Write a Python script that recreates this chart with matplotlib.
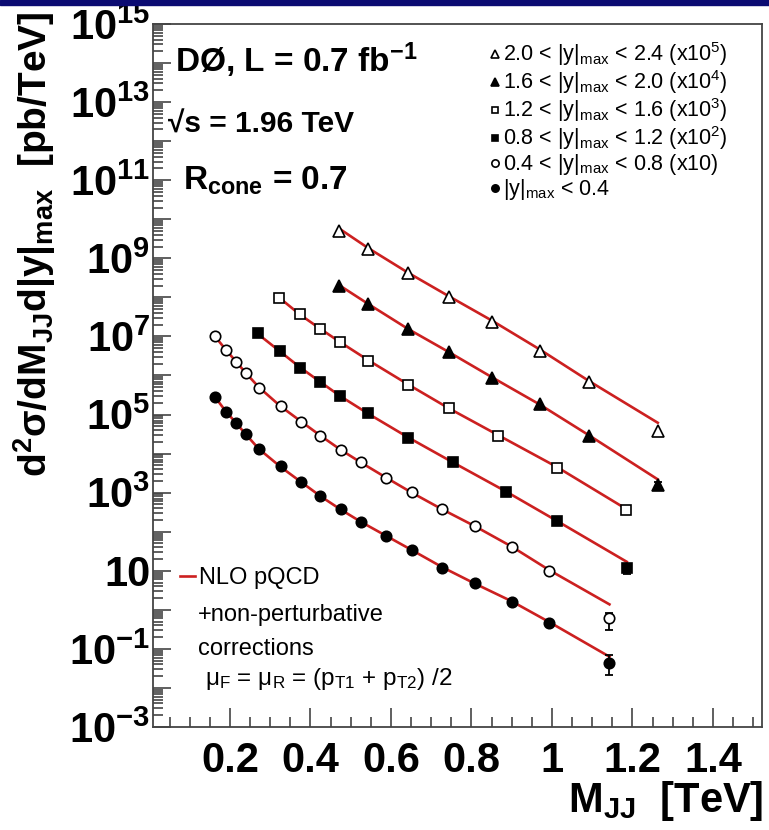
import numpy as np
import matplotlib
matplotlib.use("Agg")
import matplotlib.pyplot as plt
from matplotlib.ticker import LogLocator, MultipleLocator, NullFormatter
from matplotlib.patches import Rectangle

plt.rcParams['font.family'] = ['Liberation Sans', 'DejaVu Sans']
plt.rcParams['mathtext.fontset'] = 'custom'
plt.rcParams['mathtext.rm'] = 'Liberation Sans'
plt.rcParams['mathtext.it'] = 'Liberation Sans:italic'
plt.rcParams['mathtext.bf'] = 'Liberation Sans:bold'
plt.rcParams['mathtext.sf'] = 'Liberation Sans'

narrow = ['Liberation Sans Narrow', 'Liberation Sans']

# dijet mass bin centres [TeV], log10 of measured / NLO cross section (scaled),
# log10 errors (down, up) ; one block per |y|max region
m_r1 = [0.163, 0.190, 0.215, 0.239, 0.272, 0.326, 0.376, 0.425, 0.475, 0.526,
        0.589, 0.652, 0.728, 0.809, 0.900, 0.993, 1.143]
data_r1 = [5.46, 5.07, 4.78, 4.50, 4.12, 3.67, 3.27, 2.92, 2.58, 2.26,
           1.90, 1.53, 1.08, 0.68, 0.21, -0.33, -1.35]
nlo_r1 = [5.45, 5.08, 4.79, 4.50, 4.12, 3.66, 3.28, 2.91, 2.57, 2.25,
          1.89, 1.53, 1.09, 0.67, 0.22, -0.31, -1.20]
edn_r1 = [0] * 16 + [0.32]
eup_r1 = [0] * 16 + [0.20]

m_r2 = [0.163, 0.190, 0.215, 0.239, 0.272, 0.326, 0.376, 0.425, 0.475, 0.526,
        0.589, 0.652, 0.728, 0.809, 0.900, 0.993, 1.143]
data_r2 = [7.02, 6.65, 6.35, 6.06, 5.69, 5.22, 4.82, 4.46, 4.09, 3.79,
           3.38, 3.01, 2.58, 2.15, 1.62, 1.00, -0.20]
nlo_r2 = [7.00, 6.66, 6.36, 6.07, 5.70, 5.21, 4.83, 4.46, 4.10, 3.77,
          3.38, 3.00, 2.57, 2.14, 1.62, 1.02, 0.14]
edn_r2 = [0] * 16 + [0.31]
eup_r2 = [0] * 16 + [0.13]

m_r3 = [0.270, 0.324, 0.374, 0.424, 0.473, 0.544, 0.642, 0.755, 0.886, 1.012, 1.186]
data_r3 = [7.08, 6.63, 6.20, 5.83, 5.48, 5.03, 4.41, 3.78, 3.01, 2.28, 1.08]
nlo_r3 = [7.06, 6.62, 6.21, 5.84, 5.48, 5.02, 4.42, 3.77, 3.03, 2.28, 1.23]
edn_r3 = [0] * 10 + [0.15]
eup_r3 = [0] * 10 + [0.05]

m_r4 = [0.323, 0.374, 0.424, 0.473, 0.544, 0.643, 0.744, 0.867, 1.012, 1.185]
data_r4 = [7.99, 7.58, 7.19, 6.85, 6.38, 5.76, 5.18, 4.46, 3.64, 2.56]
nlo_r4 = [7.99, 7.56, 7.20, 6.86, 6.39, 5.77, 5.16, 4.47, 3.66, 2.58]
edn_r4 = [0] * 10
eup_r4 = [0] * 10

m_r5 = [0.472, 0.544, 0.643, 0.744, 0.852, 0.971, 1.092, 1.263]
data_r5 = [8.29, 7.82, 7.18, 6.61, 5.94, 5.26, 4.46, 3.20]
nlo_r5 = [8.31, 7.83, 7.19, 6.60, 5.95, 5.25, 4.47, 3.34]
edn_r5 = [0] * 7 + [0.13]
eup_r5 = [0] * 7 + [0.08]

m_r6 = [0.472, 0.544, 0.643, 0.744, 0.852, 0.971, 1.092, 1.263]
data_r6 = [9.70, 9.24, 8.62, 8.02, 7.38, 6.64, 5.84, 4.59]
nlo_r6 = [9.76, 9.26, 8.63, 8.03, 7.40, 6.66, 5.86, 4.79]
edn_r6 = [0] * 8
eup_r6 = [0] * 8

labels = [r'|y|$_{\rm max}$ < 0.4',
          r'0.4 < |y|$_{\rm max}$ < 0.8 (x10)',
          r'0.8 < |y|$_{\rm max}$ < 1.2 (x10$^{2}$)',
          r'1.2 < |y|$_{\rm max}$ < 1.6 (x10$^{3}$)',
          r'1.6 < |y|$_{\rm max}$ < 2.0 (x10$^{4}$)',
          r'2.0 < |y|$_{\rm max}$ < 2.4 (x10$^{5}$)']
markers = ['o', 'o', 's', 's', '^', '^']
filled = [True, False, True, False, True, False]

series = [(m_r1, data_r1, nlo_r1, edn_r1, eup_r1),
          (m_r2, data_r2, nlo_r2, edn_r2, eup_r2),
          (m_r3, data_r3, nlo_r3, edn_r3, eup_r3),
          (m_r4, data_r4, nlo_r4, edn_r4, eup_r4),
          (m_r5, data_r5, nlo_r5, edn_r5, eup_r5),
          (m_r6, data_r6, nlo_r6, edn_r6, eup_r6)]

x_ticks = [0.2, 0.4, 0.6, 0.8, 1.0, 1.2, 1.4]
x_ticklabels = ['0.2', '0.4', '0.6', '0.8', '1', '1.2', '1.4']
y_exp = list(range(-3, 16))

red = '#cc2020'
axcol = '#444444'

fig = plt.figure(figsize=(7.69, 8.30), dpi=100)
fig.patches.append(Rectangle((0, 1 - 5 / 830), 1, 5 / 830, transform=fig.transFigure,
                             color='#0b0b72', zorder=0))
ax = fig.add_axes([153 / 769, 103 / 830, 609 / 769, 703 / 830])

handles = []
for (m, d, t, edn, eup), mk, fl, lab in zip(series, markers, filled, labels):
    m = np.array(m)
    d = np.array(d)
    t = np.array(t)
    edn = np.array(edn, dtype=float)
    eup = np.array(eup, dtype=float)
    y = 10.0 ** d
    nlo_line, = ax.plot(m, 10.0 ** t, color=red, lw=1.9, zorder=2)
    sel = (edn > 0) | (eup > 0)
    if sel.any():
        lo = y[sel] - 10.0 ** (d[sel] - edn[sel])
        hi = 10.0 ** (d[sel] + eup[sel]) - y[sel]
        ax.errorbar(m[sel], y[sel], yerr=[lo, hi], fmt='none', ecolor='black',
                    elinewidth=1.3, capsize=3, capthick=1.3, zorder=3)
    ms = {'o': 7.5, 's': 7.0, '^': 8.0}[mk]
    h, = ax.plot(m, y, linestyle='none', marker=mk, ms=ms,
                 mfc='black' if fl else 'white', mec='black', mew=1.2,
                 zorder=4, label=lab)
    handles.append(h)

ax.set_yscale('log')
ax.set_xlim(0.009, 1.522)
ax.set_ylim(1e-3, 1e15)

ylabels = []
for e in y_exp:
    if e % 2 == 0:
        ylabels.append('')
    elif e == 1:
        ylabels.append('10')
    else:
        ylabels.append(r'10$^{\mathbf{%d}}$' % e)
ax.set_yticks([10.0 ** e for e in y_exp], labels=ylabels, fontsize=30,
              fontweight='bold', family=narrow)
ax.yaxis.set_minor_locator(LogLocator(base=10, subs=np.arange(2, 10), numticks=400))
ax.yaxis.set_minor_formatter(NullFormatter())
ax.set_xticks(x_ticks, labels=x_ticklabels, fontsize=30, fontweight='bold')
ax.xaxis.set_minor_locator(MultipleLocator(0.05))

ax.tick_params(which='both', direction='in', color=axcol, width=1.2,
               top=False, right=False)
ax.tick_params(axis='y', which='major', length=13, pad=2)
ax.tick_params(axis='y', which='minor', length=7)
ax.tick_params(axis='x', which='major', length=14, pad=10)
ax.tick_params(axis='x', which='minor', length=7)
for sp in ax.spines.values():
    sp.set_color(axcol)
    sp.set_linewidth(1.3)

# legends
leg = ax.legend(handles[::-1], labels[::-1], loc='upper left',
                bbox_to_anchor=(0.554, 0.9765), frameon=False, fontsize=15.5,
                markerscale=0.7, handlelength=0.45, handletextpad=0.15,
                labelspacing=0.0, borderpad=0, borderaxespad=0)
ax.add_artist(leg)
ax.legend([nlo_line], ['NLO pQCD'], loc='center left', bbox_to_anchor=(0.044, 0.212),
          frameon=False, fontsize=17, handlelength=0.65, handletextpad=0.15,
          borderpad=0, borderaxespad=0)
ax.text(0.074, 0.1600, '+non-perturbative', transform=ax.transAxes, fontsize=17,
        va='center', ha='left')
ax.text(0.074, 0.1110, 'corrections', transform=ax.transAxes, fontsize=17,
        va='center', ha='left')
ax.text(0.0854, 0.068, r'μ$_{\rm F}$ = μ$_{\rm R}$ = (p$_{\rm T1}$ + p$_{\rm T2}$) /2',
        transform=ax.transAxes, fontsize=17.5, va='center', ha='left')

# experiment labels
ax.text(0.036, 0.9317, r'DØ, L = 0.7 fb$^{\mathbf{-1}}$', transform=ax.transAxes,
        fontsize=24, fontweight='bold', va='baseline', ha='left')
ax.text(0.0246, 0.845, '√s = 1.96 TeV', transform=ax.transAxes,
        fontsize=21.5, fontweight='bold', va='baseline', ha='left')
ax.text(0.049, 0.764, r'R$_{\mathbf{cone}}$ = 0.7', transform=ax.transAxes,
        fontsize=24, fontweight='bold', va='baseline', ha='left')

fig.text(35 / 769, 1 - 12 / 830,
         r'd$^{\mathbf{2}}$σ/dM$_{\mathbf{JJ}}$d|y|$_{\mathbf{max}}$  [pb/TeV]',
         rotation=90, ha='center', va='top', fontsize=28, fontweight='bold',
         family=narrow)
fig.text(763 / 769, 18 / 830, r'M$_{\mathbf{JJ}}$  [TeV]', ha='right', va='baseline',
         fontsize=30, fontweight='bold')

fig.savefig('out.png', dpi=100)
